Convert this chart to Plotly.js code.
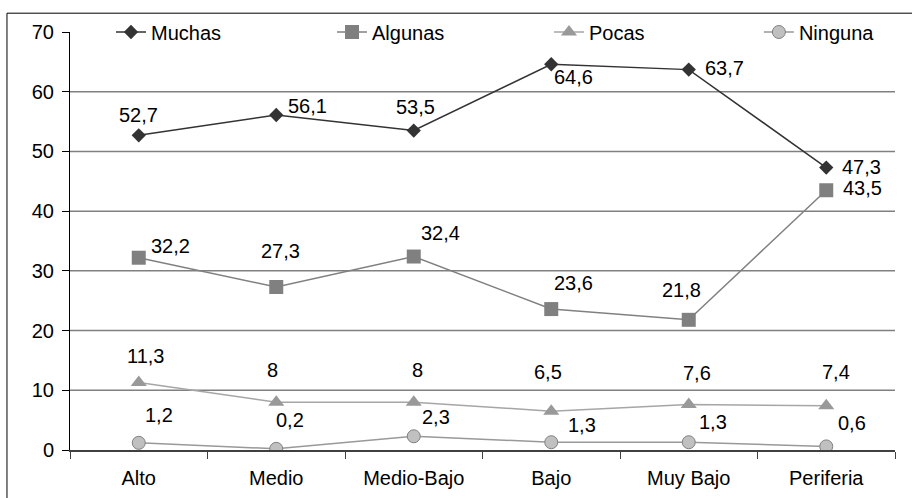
<!DOCTYPE html>
<html>
<head>
<meta charset="utf-8">
<script src="https://cdn.plot.ly/plotly-3.0.1.min.js"></script>
<style>
  html, body { margin: 0; padding: 0; background: #fff; }
  #chart { width: 912px; height: 498px; }
</style>
</head>
<body>
<div id="chart"></div>
<script>
// Categories (zones) and the four series, in percent
const categories = ['Alto', 'Medio', 'Medio-Bajo', 'Bajo', 'Muy Bajo', 'Periferia'];
const muchas  = [52.7, 56.1, 53.5, 64.6, 63.7, 47.3];
const algunas = [32.2, 27.3, 32.4, 23.6, 21.8, 43.5];
const pocas   = [11.3, 8, 8, 6.5, 7.6, 7.4];
const ninguna = [1.2, 0.2, 2.3, 1.3, 1.3, 0.6];
const yTicks  = [0, 10, 20, 30, 40, 50, 60, 70];

// Label placement relative to each point, in pixels [dx, dy] (dy downward)
const labelOffsets = {
  Muchas:  [[0, -20], [31, -9], [2, -24], [22, 13], [36, -2], [35, -1]],
  Algunas: [[32, -12], [4, -36], [27, -24], [22, -26], [-7, -30], [36, -2]],
  Pocas:   [[7, -27], [-4, -32], [4, -32], [-3, -39], [8, -32], [10, -34]],
  Ninguna: [[20, -28], [14, -29], [22, -19], [31, -17], [24, -20], [26, -23]]
};

const FONT = '"Liberation Sans", Arial, sans-serif';
const FS = 20;

// One legend box per series, spread across the top of the plot
const legendX = [0.0497, 0.3176, 0.5806, 0.835];

const series = [
  { name: 'Muchas', y: muchas,
    line: { color: '#333333', width: 1.5 },
    marker: { symbol: 'diamond', size: 11, color: '#333333' } },
  { name: 'Algunas', y: algunas,
    line: { color: '#808080', width: 1.5 },
    marker: { symbol: 'square', size: 14, color: '#808080' } },
  { name: 'Pocas', y: pocas,
    line: { color: '#a6a6a6', width: 1.5 },
    marker: { symbol: 'triangle-up', size: 14, color: '#999999' } },
  { name: 'Ninguna', y: ninguna,
    line: { color: '#999999', width: 1.5 },
    marker: { symbol: 'circle', size: 13, color: '#c0c0c0',
              line: { color: '#808080', width: 1 } } }
];

const legendId = i => (i === 0 ? 'legend' : 'legend' + (i + 1));

const traces = series.map((s, i) => ({
  type: 'scatter', mode: 'lines+markers',
  x: categories, y: s.y, name: s.name, legend: legendId(i),
  line: s.line, marker: s.marker, hoverinfo: 'skip'
}));

// Value labels, written with a decimal comma
const annotations = [];
series.forEach(s => {
  s.y.forEach((v, i) => {
    const off = labelOffsets[s.name][i];
    annotations.push({
      x: categories[i], y: v, xref: 'x', yref: 'y',
      text: String(v).replace('.', ','),
      showarrow: false, xanchor: 'center', yanchor: 'middle',
      xshift: off[0], yshift: -off[1],
      font: { family: FONT, size: FS, color: '#000' }
    });
  });
});

// Horizontal gridlines (none at the top edge)
const shapes = yTicks.filter(t => t > 0 && t < 70).map(t => ({
  type: 'line', xref: 'paper', yref: 'y', x0: 0, x1: 1, y0: t, y1: t,
  line: { color: '#808080', width: 1.5 }, layer: 'below'
}));
// Outer frame
shapes.push({
  type: 'rect', xref: 'paper', yref: 'paper',
  x0: -0.0764, x1: 1.2, y0: -0.3, y1: 1.045,
  line: { color: '#000', width: 1 }, layer: 'below'
});

const layout = {
  width: 912, height: 498,
  margin: { l: 70, r: 17, t: 30, b: 48 },
  paper_bgcolor: '#fff', plot_bgcolor: '#fff',
  font: { family: FONT, size: FS, color: '#000' },
  showlegend: true,
  xaxis: {
    type: 'category', range: [-0.5, 5.5], fixedrange: true,
    showgrid: false, zeroline: false,
    showline: true, linecolor: '#404040', linewidth: 1.5,
    ticks: 'outside', tickson: 'boundaries', ticklen: 7,
    tickcolor: '#404040', tickwidth: 1,
    tickfont: { family: FONT, size: FS, color: '#000' },
    ticklabelstandoff: 9
  },
  yaxis: {
    range: [0, 70], tickvals: yTicks, fixedrange: true,
    showgrid: false, zeroline: false,
    showline: true, linecolor: '#000', linewidth: 1,
    ticks: 'outside', ticklen: 7, tickcolor: '#000', tickwidth: 1,
    tickfont: { family: FONT, size: FS, color: '#000' },
    ticklabelstandoff: 4
  },
  shapes: shapes,
  annotations: annotations
};

legendX.forEach((x, i) => {
  layout[legendId(i)] = {
    orientation: 'h', x: x, xanchor: 'left', y: 1, yanchor: 'middle',
    font: { family: FONT, size: FS, color: '#000' },
    bgcolor: 'rgba(0,0,0,0)', borderwidth: 0
  };
});

Plotly.newPlot('chart', traces, layout, { staticPlot: true, displayModeBar: false });
</script>
</body>
</html>
